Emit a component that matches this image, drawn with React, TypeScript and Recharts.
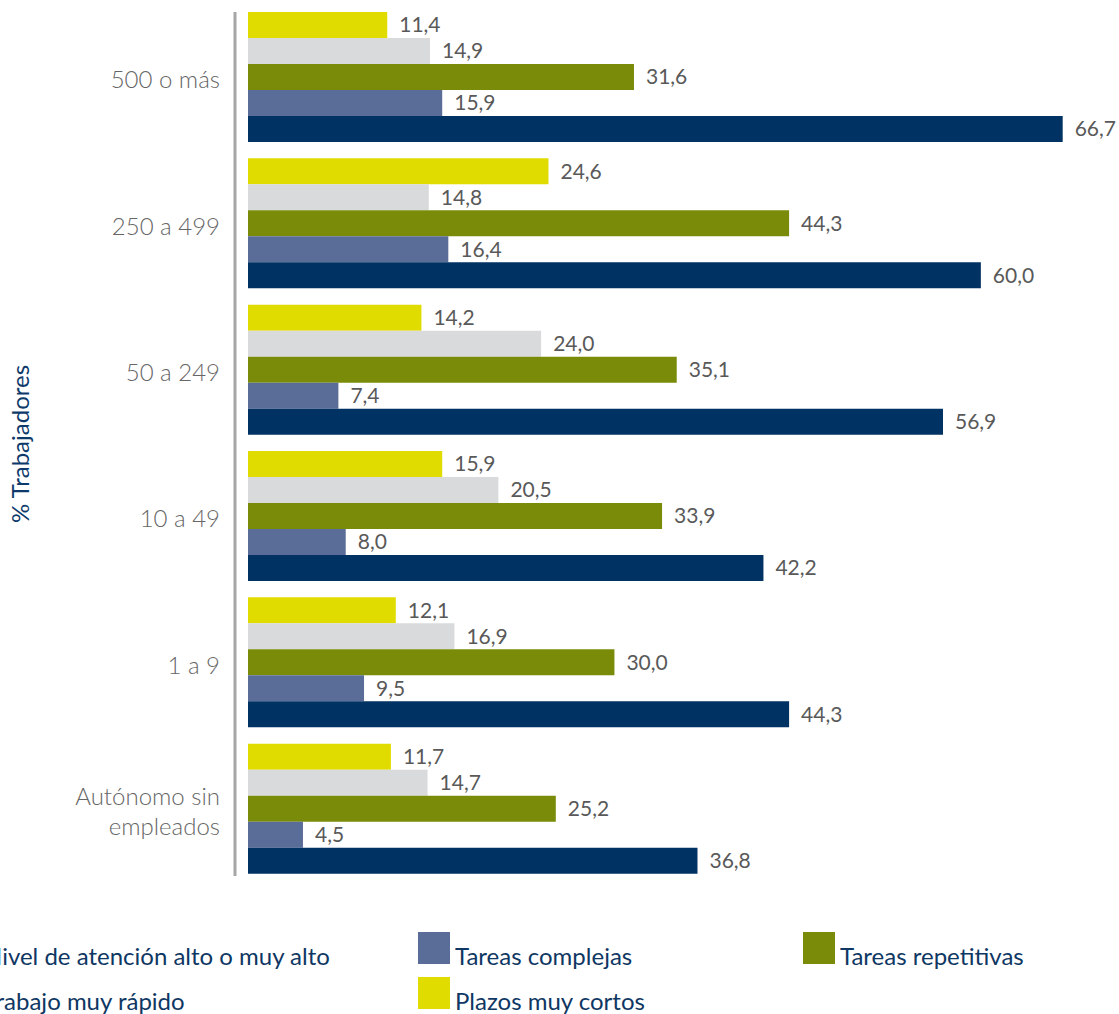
import { Bar, BarChart, LabelList, XAxis, YAxis } from "recharts";

const groups = [
  "500 o más",
  "250 a 499",
  "50 a 249",
  "10 a 49",
  "1 a 9",
  "Autónomo sin\nempleados",
];

// one value per group, top to bottom
const plazosCortos = [11.4, 24.6, 14.2, 15.9, 12.1, 11.7];
const trabajoRapido = [14.9, 14.8, 24.0, 20.5, 16.9, 14.7];
const tareasRepetitivas = [31.6, 44.3, 35.1, 33.9, 30.0, 25.2];
const tareasComplejas = [15.9, 16.4, 7.4, 8.0, 9.5, 4.5];
const atencionAlta = [66.7, 60.0, 56.9, 42.2, 44.3, 36.8];

const series = [
  { key: "plazos", name: "Plazos muy cortos", color: "#e0dc00", values: plazosCortos },
  { key: "rapido", name: "Trabajo muy rápido", color: "#d9dadc", values: trabajoRapido },
  { key: "repetitivas", name: "Tareas repetitivas", color: "#798b08", values: tareasRepetitivas },
  { key: "complejas", name: "Tareas complejas", color: "#5a6d98", values: tareasComplejas },
  { key: "atencion", name: "Nivel de atención alto o muy alto", color: "#003263", values: atencionAlta },
];

const rows = groups.map((g, i) => {
  const row: Record<string, string | number> = { group: g };
  series.forEach((s) => (row[s.key] = s.values[i]));
  return row;
});

const FONT = "Lato, 'Open Sans', sans-serif";
const NAVY_TEXT = "#0f3763";

const fmt = (v: unknown) => Number(v).toFixed(1).replace(".", ",");

function GroupTick(props: any) {
  const { x, y, payload } = props;
  const lines = String(payload.value).split("\n");
  const lh = 30;
  const start = -((lines.length - 1) * lh) / 2;
  return (
    <text
      x={x}
      y={y}
      textAnchor="end"
      fill="#666"
      fontSize={24}
      fontWeight={300}
      fontFamily={FONT}
      dominantBaseline="central"
    >
      {lines.map((l, i) => (
        <tspan key={i} x={x} dy={i === 0 ? start : lh}>
          {l}
        </tspan>
      ))}
    </text>
  );
}

// legend rows: [item, column left]
const legendRows = [
  [
    { s: series[4], left: -53 },
    { s: series[3], left: 418 },
    { s: series[2], left: 803 },
  ],
  [
    { s: series[1], left: -53 },
    { s: series[0], left: 418 },
  ],
];

export default function App() {
  return (
    <div
      style={{
        position: "absolute",
        left: 0,
        top: 0,
        width: 1119,
        height: 1014,
        overflow: "hidden",
        background: "#fff",
        fontFamily: FONT,
      }}
    >
      <BarChart
        width={1119}
        height={1014}
        data={rows}
        layout="vertical"
        margin={{ top: 12, right: 16, bottom: 138, left: 0 }}
        barCategoryGap={7}
        barGap={0}
      >
        <XAxis type="number" domain={[0, 70]} hide padding={{ left: 13, right: 0 }} />
        <YAxis
          type="category"
          dataKey="group"
          width={235}
          padding={{ top: -7, bottom: -7 }}
          axisLine={{ stroke: "#a6a6a6", strokeWidth: 3 }}
          tickLine={false}
          tickMargin={9}
          tick={<GroupTick />}
          interval={0}
          label={{
            value: "% Trabajadores",
            angle: -90,
            position: "insideLeft",
            offset: 20,
            fill: "#0e3a6b",
            fontSize: 24,
            fontFamily: FONT,
            style: { textAnchor: "middle" },
          }}
        />
        {series.map((s) => (
          <Bar key={s.key} dataKey={s.key} name={s.name} fill={s.color} isAnimationActive={false}>
            <LabelList
              dataKey={s.key}
              position="right"
              offset={12}
              formatter={fmt}
              fill="#595959"
              fontSize={21}
              fontFamily={FONT}
            />
          </Bar>
        ))}
      </BarChart>
      {legendRows.map((row, r) =>
        row.map(({ s, left }) => (
          <div
            key={s.key}
            style={{
              position: "absolute",
              left,
              top: 932 + r * 45,
              display: "flex",
              alignItems: "flex-end",
              whiteSpace: "nowrap",
            }}
          >
            <span style={{ width: 32, height: 32, background: s.color, display: "inline-block" }} />
            <span
              style={{
                marginLeft: 5,
                fontSize: 24,
                color: NAVY_TEXT,
                lineHeight: "28px",
                position: "relative",
                top: 6,
              }}
            >
              {s.name}
            </span>
          </div>
        ))
      )}
    </div>
  );
}
